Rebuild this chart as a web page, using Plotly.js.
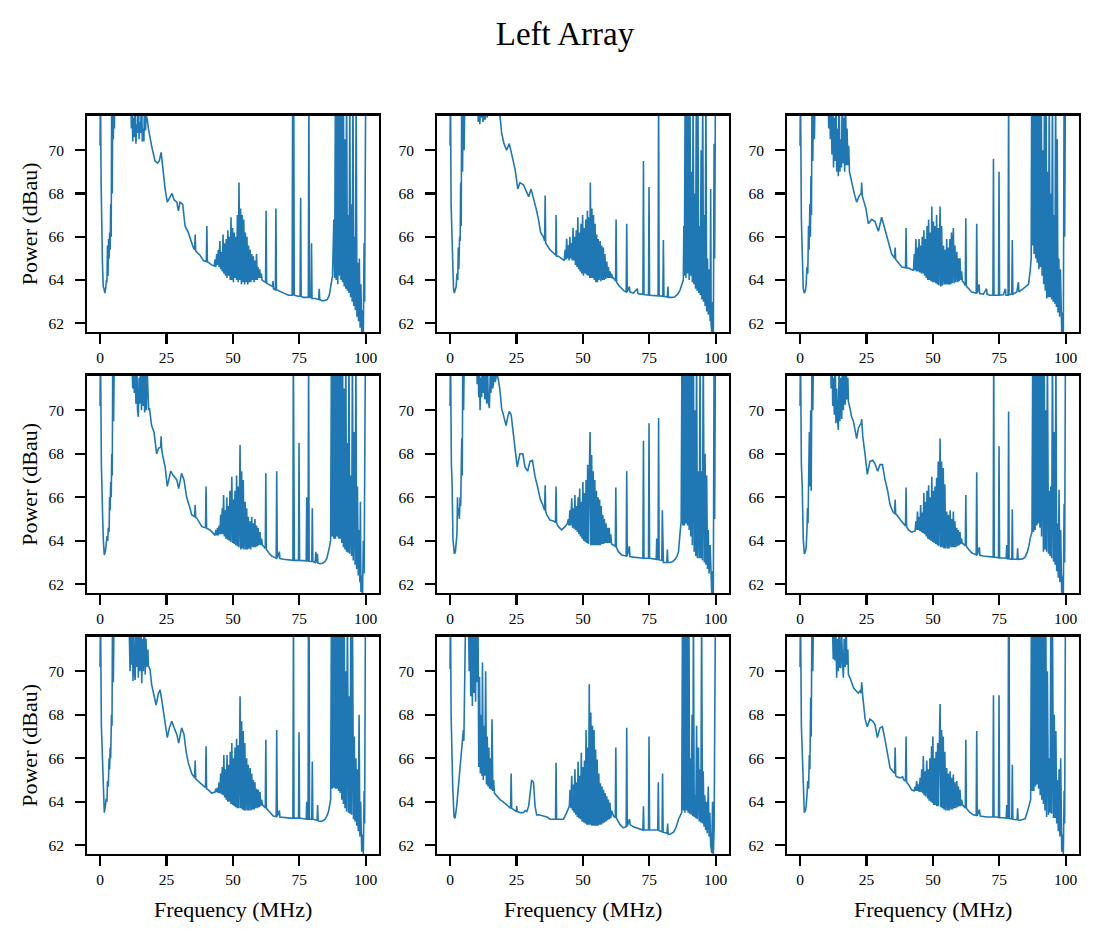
<!DOCTYPE html>
<html>
<head>
<meta charset="utf-8">
<script src="https://cdn.plot.ly/plotly-3.0.1.min.js"></script>
<style>html,body{margin:0;padding:0;background:#fff;}#chart{width:1098px;height:940px;}</style>
</head>
<body>
<div id="chart"></div>
<script>
// Tick labels
const xTicks = [0, 25, 50, 75, 100];
const yTicks = [62, 64, 66, 68, 70];
const figTitle = "Left Array";
const xLabel = "Frequency (MHz)";
const yLabel = "Power (dBau)";

// Spectra: [frequency MHz, power dBau]
const spectrum_r1c1 = [[0.0,70.2],[0.15,73],[0.4,68.5],[0.6,66.6],[0.9,64.8],[1.2,63.7],[1.5,63.6],[1.8,63.4],[2.1,63.6],[2.4,64.0],[2.6,63.9],[2.8,65.6],[3.0,64.2],[3.2,65.9],[3.4,65.0],[3.6,66.2],[3.8,65.4],[4.0,67.5],[4.2,66.0],[4.4,73],[4.6,68.0],[4.8,73],[5.0,70.5],[5.2,73],[5.4,71.0],[5.6,73],[11.5,73],
[11.8,71.0],[12.0,73],[12.3,70.4],[12.6,71.5],[12.9,70.6],[13.2,73],[13.5,70.3],[13.8,71.2],[14.1,70.8],[14.4,73],[14.7,70.5],[15.0,71.3],[15.3,70.8],[15.6,73],[15.9,70.4],[16.2,71.0],[16.5,70.4],[16.8,73],[17.1,70.9],[17.4,71.6],[17.8,71.4],
[18.2,71.0],[19.4,70.2],[20.7,69.5],[21.6,69.4],[22.3,69.5],[23.0,69.9],[23.6,69.2],[24.5,68.2],[25.3,67.6],[26.3,67.8],[27.1,68.0],[27.9,67.7],[28.9,67.6],[29.5,67.2],[30.1,67.6],[31.1,67.5],[32.0,66.5],[33.2,66.2],[34.5,65.7],[35.1,65.5],[35.6,65.4],[35.8,66.1],[36.0,65.35],[37.6,65.15],[38.9,64.9],[40.0,64.85],[40.2,66.5],[40.4,64.85],[42.0,64.7],[43.0,64.65],
[43.3,64.95],[43.6,64.6],[43.9,65.2],[44.2,64.7],[44.5,65.4],[44.8,64.6],[45.1,65.8],[45.4,64.5],[45.7,65.3],[46.0,64.4],[46.3,66.1],[46.6,64.3],[46.9,65.7],[47.2,64.2],[47.5,65.9],[47.8,64.1],[48.1,66.3],[48.4,64.2],[48.7,66.0],[49.0,64.0],[49.3,66.9],[49.6,64.0],[49.9,66.4],[50.2,63.9],[50.5,66.2],[50.8,64.1],[51.1,66.0],[51.4,64.0],[51.7,67.0],[52.0,63.9],[52.3,68.5],[52.6,64.0],[52.9,67.3],[53.2,63.8],[53.5,67.0],[53.8,63.9],[54.1,66.8],[54.4,63.8],[54.7,66.2],[55.0,63.9],[55.3,66.0],[55.6,63.8],[55.9,65.6],[56.2,63.9],[56.5,65.4],[56.8,63.9],[57.1,65.2],[57.4,64.0],[57.7,65.1],[58.0,63.9],[58.3,64.9],[58.6,64.0],[58.9,65.2],[59.2,64.0],[59.5,64.6],[59.8,64.1],[60.1,64.5],[60.4,64.1],[60.7,64.3],[61.0,64.0],
[61.5,63.95],[62.3,63.9],[62.5,67.2],[62.7,63.85],[63.5,63.8],[64.5,63.7],[64.9,63.7],[65.1,63.95],[65.3,63.6],[66.0,63.55],[66.2,67.3],[66.4,63.55],[67.5,63.5],[68.5,63.45],[70.0,63.35],[71.0,63.3],[72.3,63.3],[72.5,73],[72.7,63.3],[72.9,73],[73.1,63.3],[74.5,63.25],[75.3,63.25],[75.5,67.8],[75.7,63.25],[76.5,63.2],[77.5,63.2],[78.4,63.2],[78.6,73],[78.8,63.2],[79.4,63.2],[79.6,65.7],[79.8,63.15],[81.0,63.15],[82.3,63.1],[82.5,63.6],[82.7,63.1],[83.5,63.05],[84.5,63.05],[85.5,63.1],[86.3,63.3],[87.0,63.8],[87.5,64.2],
[88.0,66.8],[88.3,64.1],[88.6,73],[88.9,64.0],[89.2,73],[89.5,63.8],[89.8,73],[90.1,64.2],[90.4,73],[90.7,64.0],[91.0,73],[91.3,63.9],[91.6,73],[91.9,63.7],[92.2,70.5],[92.5,63.6],[92.8,73],[93.1,63.5],[93.4,67.0],[93.7,63.4],[94.0,73],[94.3,63.2],[94.6,67.5],[94.9,63.0],[95.2,73],[95.5,62.8],[95.8,66.0],[96.1,62.6],[96.4,73],[96.7,62.3],[97.0,64.8],[97.3,62.1],[97.6,65.0],[97.9,61.8],[98.2,63.8],[98.5,61.5],[98.8,62.6],[99.1,61.5],[99.4,65.7],[99.6,63.0],[99.8,68.4],[100.0,73]];

const spectrum_r1c2 = [[0.0,70.2],[0.15,73],[0.4,67.5],[0.6,66.3],[1.0,64.2],[1.3,63.6],[1.6,63.4],[2.0,63.6],[2.3,63.7],[2.6,64.3],[2.9,64.0],[3.1,65.5],[3.3,64.5],[3.6,66.0],[3.8,65.8],[4.0,68.5],[4.2,66.5],[4.4,73],[4.7,69.0],[5.0,73],[5.3,70.0],[5.6,73],[10.5,73],
[10.6,71.3],[10.9,73],[11.2,71.2],[11.5,72],[11.8,71.5],[12.1,73],[12.4,71.3],[12.8,71.7],[13.2,71.4],[13.6,73],[14.0,71.5],[14.5,73],[15.0,71.8],[18.5,72.0],
[18.8,71.6],[19.4,70.8],[20.3,70.3],[21.3,70.0],[22.3,70.3],[23.2,69.8],[24.5,69.1],[25.5,68.2],[26.3,68.5],[27.6,68.4],[28.9,68.0],[29.6,67.85],[30.5,68.2],[31.4,67.8],[32.4,67.3],[33.2,66.85],[34.1,66.2],[35.1,66.0],[35.6,65.8],[35.8,67.9],[36.0,65.7],[37.6,65.4],[39.1,65.2],[39.8,65.15],[39.9,67.0],[40.1,65.1],[40.8,65.1],[42.7,64.9],
[43.0,64.9],[43.3,65.4],[43.6,64.95],[43.9,65.9],[44.2,65.0],[44.5,65.6],[44.8,64.9],[45.1,66.0],[45.4,65.0],[45.7,65.7],[46.0,64.9],[46.3,66.4],[46.6,64.9],[46.9,66.0],[47.2,64.7],[47.5,66.3],[47.8,64.6],[48.1,66.9],[48.4,64.5],[48.7,66.2],[49.0,64.4],[49.3,66.6],[49.6,64.3],[49.9,67.0],[50.2,64.2],[50.5,66.4],[50.8,64.3],[51.1,66.8],[51.4,64.25],[51.7,67.2],[52.0,64.2],[52.3,66.9],[52.6,64.1],[52.8,68.5],[53.1,64.1],[53.4,67.3],[53.7,64.1],[54.0,67.0],[54.3,64.0],[54.6,66.6],[54.9,63.9],[55.2,66.1],[55.5,63.9],[55.8,65.9],[56.1,64.0],[56.5,65.8],[56.8,63.95],[57.1,65.6],[57.4,64.0],[57.7,65.5],[58.0,64.0],[58.3,65.2],[58.6,64.05],[59.0,64.85],[59.3,64.1],[59.6,64.6],[59.9,64.1],[60.2,64.4],[60.5,64.1],[60.8,64.3],[61.1,64.1],
[61.5,64.1],[62.3,63.95],[62.5,66.8],[62.7,63.9],[63.5,63.75],[64.6,63.6],[65.5,63.5],[66.3,63.45],[66.5,66.6],[66.7,63.45],[67.5,63.7],[67.7,63.45],[69.0,63.4],[70.5,63.6],[70.7,63.38],[71.5,63.35],[72.6,63.35],[72.8,69.5],[73.0,63.33],[74.7,63.3],[74.9,68.3],[75.1,63.3],[77.0,63.28],[78.3,63.27],[78.5,73],[78.7,63.27],[80.1,63.25],[80.3,65.85],[80.5,63.25],[81.8,63.22],[82.0,63.7],[82.2,63.2],[83.5,63.2],[84.5,63.22],[85.3,63.3],[86.0,63.4],[86.6,63.55],[87.3,63.8],[87.8,64.0],
[88.0,66.5],[88.2,64.2],[88.5,73],[88.8,64.1],[89.1,73],[89.4,64.3],[89.7,73],[90.0,64.0],[90.3,73],[90.6,64.2],[90.9,69.0],[91.2,63.9],[91.5,73],[91.8,63.8],[92.1,68.0],[92.4,63.6],[92.7,73],[93.0,63.5],[93.3,73],[93.6,63.4],[93.9,66.5],[94.2,63.3],[94.5,70.0],[94.8,63.1],[95.1,73],[95.4,63.0],[95.7,67.0],[96.0,62.8],[96.3,73],[96.6,62.55],[96.9,65.0],[97.2,62.4],[97.5,64.5],[97.9,62.1],[98.1,68.2],[98.3,61.9],[98.6,61.5],[98.9,63.0],[99.1,61.5],[99.4,70.3],[99.6,65.0],[99.9,73]];

const spectrum_r1c3 = [[0.0,70.2],[0.15,73],[0.5,66.8],[0.8,64.5],[1.2,63.6],[1.6,63.4],[2.0,63.5],[2.3,63.8],[2.6,64.6],[2.9,64.3],[3.2,66.5],[3.4,65.4],[3.7,67.5],[3.9,66.0],[4.1,68.8],[4.3,67.0],[4.5,73],[4.8,69.5],[5.1,73],[5.4,70.5],[5.7,73],[10.2,73],
[10.5,73],[10.8,71.0],[11.1,73],[11.4,70.5],[11.7,73],[12.0,69.8],[12.3,73],[12.6,69.2],[12.9,71.5],[13.2,69.5],[13.5,73],[13.8,69.0],[14.1,71.0],[14.4,68.8],[14.7,73],[15.0,69.0],[15.3,70.5],[15.6,69.2],[15.9,73],[16.2,69.4],[16.5,71.5],[16.8,69.0],[17.1,73],[17.4,69.3],[17.7,71.0],[18.0,69.3],[18.3,70.2],[18.6,69.0],
[19.4,68.5],[20.3,68.05],[21.3,67.6],[22.3,67.9],[23.0,68.0],[23.2,68.5],[23.4,67.9],[23.8,67.7],[24.8,67.3],[25.7,66.6],[27.0,66.8],[28.2,66.7],[29.5,66.25],[30.7,66.9],[32.0,66.3],[33.2,65.7],[34.5,65.2],[35.1,65.1],[35.6,65.0],[35.8,65.5],[36.0,64.95],[37.0,64.8],[38.3,64.6],[39.7,64.57],[39.9,66.4],[40.1,64.56],[40.8,64.55],[42.4,64.45],
[42.7,64.45],[43.0,65.2],[43.3,64.45],[43.6,65.9],[43.9,64.4],[44.2,65.5],[44.5,64.4],[44.8,65.9],[45.1,64.35],[45.4,65.6],[45.7,64.3],[46.0,66.0],[46.3,64.3],[46.6,66.3],[46.9,64.2],[47.2,65.9],[47.5,64.1],[47.8,66.5],[48.1,64.0],[48.4,66.8],[48.7,64.0],[49.0,66.2],[49.3,63.95],[49.6,67.4],[49.9,63.9],[50.2,66.7],[50.5,63.9],[50.8,66.5],[51.1,63.85],[51.4,67.0],[51.7,63.8],[52.0,66.4],[52.3,63.75],[52.7,67.4],[53.0,63.7],[53.3,66.5],[53.6,63.75],[54.0,65.6],[54.3,63.8],[54.6,65.4],[54.9,63.8],[55.2,65.9],[55.5,63.8],[55.8,65.5],[56.1,63.8],[56.4,65.9],[56.7,63.8],[57.0,66.2],[57.3,63.85],[57.7,66.4],[58.0,63.85],[58.3,65.6],[58.6,63.9],[59.0,65.3],[59.3,63.9],[59.6,65.0],[59.9,63.95],[60.2,65.0],[60.5,64.0],[60.8,64.4],[61.1,63.95],
[61.5,63.9],[62.2,63.75],[62.4,66.85],[62.6,63.72],[63.5,63.6],[64.6,63.45],[65.5,63.42],[66.3,63.4],[66.5,66.6],[66.7,63.4],[67.4,63.8],[67.6,63.38],[69.0,63.35],[70.2,63.6],[70.4,63.34],[71.5,63.3],[72.6,63.3],[72.8,69.6],[73.0,63.3],[74.7,63.3],[74.9,69.0],[75.1,63.3],[76.5,63.32],[77.3,63.6],[77.5,63.3],[78.3,63.3],[78.5,73],[78.7,63.32],[79.7,63.35],[79.9,65.85],[80.1,63.35],[81.6,63.45],[82.2,63.9],[82.4,63.45],[84.0,63.6],[85.0,63.7],[86.0,63.8],[86.6,64.4],[87.0,65.0],
[87.2,73],[87.5,65.6],[87.8,73],[88.1,65.2],[88.4,73],[88.7,65.0],[89.0,73],[89.3,64.8],[89.6,73],[89.9,64.5],[90.2,73],[90.5,64.6],[90.8,73],[91.1,64.2],[91.4,70.0],[91.7,63.8],[92.0,73],[92.3,63.5],[92.6,73],[92.9,63.15],[93.2,69.0],[93.5,63.2],[93.8,73],[94.1,63.2],[94.4,68.0],[94.7,63.1],[95.0,73],[95.3,63.0],[95.6,67.0],[95.9,62.9],[96.2,73],[96.5,62.75],[96.8,70.5],[97.1,62.5],[97.4,65.0],[97.7,62.3],[98.0,64.5],[98.3,61.9],[98.5,61.6],[98.8,62.5],[99.1,61.6],[99.4,73],[99.6,66.0],[99.9,73]];

const spectrum_r2c1 = [[0.0,70.2],[0.15,73],[0.5,67.5],[0.75,66.7],[1.0,65.0],[1.25,64.0],[1.6,63.35],[2.0,63.5],[2.3,63.8],[2.6,64.2],[2.9,64.0],[3.1,64.6],[3.4,64.4],[3.6,66.0],[3.8,65.4],[4.0,66.7],[4.2,66.0],[4.4,68.0],[4.6,67.0],[4.8,73],[5.1,69.5],[5.4,73],[11.8,73],
[12.0,72],[12.3,71.0],[12.6,73],[12.9,70.8],[13.2,73],[13.5,70.3],[13.8,73],[14.1,70.0],[14.4,69.7],[14.7,71.5],[15.0,70.3],[15.3,73],[15.6,70.0],[15.9,71.8],[16.2,70.2],[16.5,73],[16.8,69.9],[17.1,71.6],[17.4,70.0],[17.7,72],[18.0,70.2],[18.3,70.0],[18.6,70.1],
[18.8,69.95],[19.4,69.3],[20.3,69.0],[21.3,68.0],[22.0,68.25],[22.8,68.3],[23.0,68.8],[23.2,68.2],[23.6,67.9],[24.5,67.4],[25.3,66.5],[26.6,67.2],[27.6,67.0],[28.9,66.8],[29.6,66.4],[30.7,67.1],[31.6,66.8],[32.6,66.0],[33.5,65.65],[34.5,65.2],[35.6,65.1],[35.8,65.65],[36.0,65.08],[36.4,65.05],[38.3,64.65],[39.7,64.6],[39.9,66.5],[40.1,64.58],[41.4,64.5],[42.7,64.35],[43.3,64.25],
[43.6,64.5],[43.9,64.25],[44.2,64.6],[44.5,64.25],[44.8,64.7],[45.1,64.3],[45.4,65.2],[45.7,64.3],[46.0,65.5],[46.2,64.3],[46.5,66.1],[46.8,64.2],[47.1,65.4],[47.4,64.1],[47.7,66.0],[48.0,64.05],[48.3,65.6],[48.6,64.0],[48.9,66.3],[49.2,63.95],[49.6,66.95],[49.9,63.9],[50.2,65.9],[50.5,63.85],[50.8,66.3],[51.1,63.8],[51.4,67.0],[51.7,63.75],[52.0,66.5],[52.3,63.7],[52.7,68.4],[53.0,63.6],[53.3,67.2],[53.6,63.65],[53.9,66.8],[54.2,63.6],[54.6,65.8],[54.9,63.6],[55.2,65.5],[55.5,63.6],[55.8,65.1],[56.1,63.65],[56.4,64.9],[56.7,63.6],[57.1,65.1],[57.4,63.7],[57.7,64.8],[58.0,63.7],[58.3,65.0],[58.6,63.7],[58.9,64.7],[59.2,63.75],[59.5,64.6],[59.8,63.8],[60.2,64.4],[60.5,63.8],[60.8,64.1],[61.1,63.8],
[61.5,63.75],[62.2,63.65],[62.4,67.1],[62.6,63.6],[63.5,63.45],[64.6,63.3],[65.5,63.25],[66.3,63.2],[66.5,67.2],[66.7,63.2],[67.5,63.5],[67.7,63.18],[69.0,63.15],[70.5,63.13],[71.5,63.12],[72.6,63.1],[72.75,73],[72.9,63.1],[73.0,73],[73.15,63.1],[74.7,63.1],[74.9,68.5],[75.1,63.1],[76.5,63.08],[77.6,63.08],[77.8,66.0],[78.0,63.07],[78.3,63.07],[78.5,73],[78.7,63.06],[79.7,63.05],[79.9,65.5],[80.1,63.05],[81.0,63.0],[81.2,63.5],[81.4,63.0],[81.8,63.4],[82.0,62.97],[82.8,62.95],[83.8,62.97],[84.7,63.05],[85.4,63.2],[86.0,63.5],[86.5,63.8],[86.8,64.05],
[87.1,73],[87.4,64.2],[87.7,73],[88.0,64.1],[88.3,73],[88.6,64.1],[88.9,73],[89.2,64.2],[89.5,73],[89.8,64.1],[90.1,73],[90.4,64.1],[90.7,73],[91.0,63.9],[91.3,73],[91.6,63.7],[91.9,71.0],[92.2,63.6],[92.5,73],[92.8,63.5],[93.1,68.5],[93.4,63.45],[93.7,73],[94.0,63.4],[94.3,67.0],[94.7,63.3],[95.0,73],[95.3,63.1],[95.6,69.0],[96.0,62.9],[96.3,73],[96.6,62.7],[96.9,66.5],[97.2,62.4],[97.5,64.5],[97.8,62.1],[98.0,65.8],[98.2,61.65],[98.5,62.4],[98.8,61.5],[99.1,64.0],[99.4,62.5],[99.6,68.0],[99.9,73]];

const spectrum_r2c2 = [[0.0,70.2],[0.15,73],[0.5,67.5],[0.75,66.7],[1.1,64.1],[1.4,63.6],[1.6,63.4],[2.0,63.5],[2.3,63.8],[2.6,64.3],[2.8,66.0],[3.0,65.2],[3.2,65.5],[3.5,65.0],[3.8,66.0],[4.0,65.6],[4.2,67.5],[4.4,68.7],[4.6,67.0],[4.8,73],[5.1,70.0],[5.4,73],[10.0,73],
[10.2,71.2],[10.5,73],[10.8,70.6],[11.1,72],[11.3,70.0],[11.6,71.5],[11.9,70.6],[12.2,73],[12.5,70.8],[12.8,72],[13.1,70.5],[13.4,71.6],[13.8,70.3],[14.1,72],[14.4,70.4],[14.8,70.1],[15.1,71.6],[15.4,70.8],[15.7,73],[16.0,71.0],[16.3,71.2],[16.7,72],[17.0,71.3],[17.6,71.7],[18.2,71.4],
[18.8,70.9],[19.4,70.1],[20.3,69.65],[21.1,69.3],[21.7,69.7],[22.3,69.95],[23.0,69.8],[23.8,68.8],[24.6,68.1],[25.3,67.4],[26.3,68.0],[27.4,68.0],[28.2,67.4],[29.2,67.2],[30.1,67.65],[31.0,67.7],[32.0,66.95],[32.9,66.5],[33.9,65.95],[34.9,65.65],[35.6,65.4],[35.8,66.55],[36.0,65.35],[36.4,65.2],[37.6,64.95],[39.1,64.9],[39.7,64.85],[39.9,66.5],[40.1,64.8],[40.8,64.65],[42.0,64.5],[43.3,64.65],[44.2,64.8],
[44.5,65.0],[44.8,64.7],[45.1,65.4],[45.4,64.7],[45.8,65.95],[46.1,64.6],[46.4,65.5],[46.7,64.55],[47.0,66.1],[47.3,64.5],[47.6,65.6],[47.9,64.4],[48.2,66.0],[48.5,64.3],[48.8,66.4],[49.1,64.2],[49.4,65.8],[49.7,64.1],[50.0,66.7],[50.3,64.0],[50.6,66.2],[50.9,63.95],[51.2,66.8],[51.5,63.9],[51.8,67.5],[52.1,63.85],[52.4,66.9],[52.7,69.0],[53.0,63.8],[53.3,67.95],[53.6,63.8],[53.9,67.2],[54.2,63.8],[54.5,66.8],[54.8,63.8],[55.1,66.3],[55.4,63.8],[55.7,66.0],[56.0,63.8],[56.3,65.9],[56.6,63.8],[56.9,65.6],[57.2,63.85],[57.5,65.2],[57.8,63.85],[58.1,65.0],[58.4,63.9],[58.7,64.8],[59.0,63.9],[59.3,64.6],[59.6,63.9],[59.9,64.6],[60.2,63.9],[60.5,64.3],[60.8,63.85],
[61.3,63.8],[62.2,63.75],[62.4,66.45],[62.6,63.7],[63.4,63.5],[64.6,63.35],[65.5,63.32],[66.3,63.3],[66.5,67.2],[66.7,63.3],[67.5,63.75],[67.7,63.28],[69.0,63.25],[70.5,63.23],[71.5,63.22],[72.6,63.2],[72.8,68.6],[73.0,63.2],[74.7,63.2],[74.9,69.4],[75.1,63.2],[76.5,63.18],[77.6,63.15],[77.8,64.1],[78.0,63.15],[78.3,63.14],[78.5,69.65],[78.7,63.12],[79.7,63.1],[79.9,65.4],[80.1,63.05],[80.3,63.0],[81.6,63.0],[81.8,63.6],[82.0,63.0],[82.8,63.0],[83.8,63.05],[84.7,63.15],[85.5,63.3],[86.0,63.5],[86.6,64.4],
[87.0,64.9],[87.3,73],[87.6,64.7],[87.9,73],[88.2,64.7],[88.5,73],[88.8,64.8],[89.1,73],[89.4,64.7],[89.7,73],[90.0,64.5],[90.3,73],[90.6,64.2],[90.9,73],[91.2,63.8],[91.6,73],[91.9,63.5],[92.2,70.0],[92.5,63.3],[92.8,73],[93.1,63.2],[93.5,67.2],[93.8,63.2],[94.1,73],[94.4,63.2],[94.7,67.2],[95.0,63.1],[95.3,73],[95.7,63.0],[96.0,68.0],[96.3,62.9],[96.6,67.0],[96.9,62.7],[97.2,64.5],[97.5,62.5],[97.9,63.8],[98.2,62.0],[98.5,61.6],[98.8,62.6],[99.1,61.6],[99.4,73],[99.6,65.0],[99.9,73]];

const spectrum_r2c3 = [[0.0,70.2],[0.15,73],[0.5,67.5],[0.8,66.6],[1.2,64.1],[1.6,63.4],[2.0,63.5],[2.3,63.7],[2.6,64.5],[2.8,65.5],[3.0,64.8],[3.3,67.0],[3.5,69.0],[3.7,66.5],[4.0,70.0],[4.2,66.3],[4.5,73],[4.8,70.0],[5.1,73],[11.5,73],
[11.7,71.0],[12.0,73],[12.3,70.2],[12.6,71.5],[12.9,69.8],[13.2,73],[13.5,69.4],[13.8,71.0],[14.1,69.6],[14.4,69.1],[14.7,72],[15.0,69.5],[15.3,71.5],[15.7,69.6],[16.0,73],[16.3,70.0],[16.6,72],[17.0,70.25],[17.3,73],[17.6,70.5],[18.0,71.5],[18.2,70.4],
[18.8,70.1],[19.4,69.7],[20.1,69.5],[20.7,69.1],[21.3,68.7],[22.0,69.2],[22.6,69.35],[23.0,69.4],[23.2,69.6],[23.4,69.1],[23.6,68.8],[24.5,67.95],[25.3,67.05],[26.3,67.65],[27.4,67.7],[28.2,67.55],[29.2,67.2],[30.1,67.5],[31.0,67.5],[32.0,66.8],[32.9,66.35],[33.9,65.65],[34.9,65.35],[35.6,65.25],[35.8,65.9],[36.0,65.22],[36.4,65.2],[37.9,64.95],[39.5,64.7],[39.7,64.68],[39.9,66.45],[40.1,64.65],[40.8,64.5],[42.0,64.4],[43.3,64.45],
[43.6,64.9],[43.9,64.5],[44.2,65.35],[44.5,64.5],[44.8,65.1],[45.1,64.45],[45.4,65.65],[45.7,64.4],[46.0,65.3],[46.3,64.35],[46.6,66.2],[46.9,64.3],[47.2,65.8],[47.5,64.2],[47.8,66.3],[48.1,64.1],[48.4,66.55],[48.7,64.05],[49.0,66.0],[49.3,64.0],[49.6,66.95],[49.9,63.95],[50.2,66.3],[50.5,63.9],[50.8,66.5],[51.1,63.85],[51.4,66.9],[51.7,63.8],[52.0,67.65],[52.3,63.75],[52.7,68.7],[53.0,63.7],[53.3,67.65],[53.6,63.7],[53.9,67.35],[54.2,63.65],[54.5,66.6],[54.8,63.65],[55.2,65.35],[55.5,63.65],[55.8,65.2],[56.1,63.65],[56.5,65.4],[56.8,63.7],[57.1,65.0],[57.4,63.7],[57.7,65.35],[58.0,63.7],[58.3,64.9],[58.6,63.7],[59.0,64.6],[59.3,63.75],[59.6,64.5],[59.9,63.8],[60.2,64.4],[60.5,63.85],[60.8,64.1],
[61.0,63.9],[62.2,63.78],[62.4,66.1],[62.6,63.75],[63.5,63.6],[64.6,63.45],[65.5,63.4],[66.3,63.35],[66.5,67.15],[66.7,63.35],[67.5,63.7],[67.7,63.33],[69.0,63.3],[70.5,63.28],[71.5,63.27],[72.7,63.25],[72.9,73],[73.1,63.25],[74.7,63.22],[74.9,68.35],[75.1,63.22],[76.5,63.2],[77.6,63.2],[77.8,63.8],[78.0,63.18],[78.3,63.18],[78.5,69.95],[78.7,63.17],[79.7,63.15],[79.9,65.45],[80.1,63.15],[81.7,63.15],[81.9,63.65],[82.1,63.15],[82.8,63.15],[83.8,63.17],[84.7,63.25],[85.6,63.5],[86.2,63.8],[86.6,64.1],[87.3,64.4],
[87.6,73],[87.9,64.4],[88.2,73],[88.5,64.5],[88.8,73],[89.1,64.7],[89.4,73],[89.7,64.8],[90.0,73],[90.3,64.6],[90.6,73],[90.9,64.2],[91.2,73],[91.6,63.5],[91.9,73],[92.2,63.6],[92.5,70.0],[92.8,63.5],[93.1,73],[93.5,63.4],[93.8,66.3],[94.1,63.3],[94.4,66.5],[94.7,63.2],[95.0,73],[95.4,63.05],[95.7,69.0],[96.0,62.9],[96.3,73],[96.6,62.6],[96.9,64.8],[97.2,62.3],[97.5,66.35],[97.8,62.1],[98.1,64.5],[98.5,61.6],[98.8,62.4],[99.1,61.6],[99.4,65.7],[99.6,63.0],[99.9,73]];

const spectrum_r3c1 = [[0.0,70.2],[0.15,73],[0.5,67.5],[0.75,66.6],[1.25,63.9],[1.6,63.5],[2.0,63.8],[2.3,64.15],[2.6,64.0],[2.8,64.95],[3.1,64.7],[3.4,66.0],[3.6,65.5],[3.8,66.5],[4.0,66.0],[4.3,68.0],[4.5,67.5],[4.7,73],[5.0,69.5],[5.3,73],[10.8,73],
[11.0,71.2],[11.3,70.0],[11.6,73],[11.9,70.3],[12.2,72],[12.4,69.55],[12.6,73],[12.9,70.0],[13.2,69.6],[13.5,72],[13.8,70.2],[14.1,73],[14.4,69.7],[14.7,71.8],[15.0,70.0],[15.3,73],[15.7,69.45],[16.0,71.5],[16.3,70.0],[16.6,73],[17.0,69.85],[17.3,71.5],[17.6,70.2],[18.0,71.0],[18.2,70.25],
[18.8,70.1],[19.4,69.4],[20.3,68.9],[21.1,68.45],[22.0,69.0],[22.6,69.15],[23.2,68.7],[24.1,68.0],[24.8,67.55],[25.3,66.95],[26.1,67.4],[27.0,67.7],[27.9,67.4],[28.9,67.1],[29.6,66.7],[30.7,67.4],[31.6,67.1],[32.4,66.3],[33.2,65.8],[34.5,65.3],[35.6,65.1],[35.8,65.9],[36.0,65.05],[36.4,65.0],[38.3,64.8],[39.7,64.65],[39.9,66.55],[40.1,64.6],[40.8,64.55],[42.0,64.4],[43.3,64.45],
[43.6,64.6],[43.9,64.45],[44.2,64.65],[44.5,64.4],[44.8,64.9],[45.1,64.4],[45.4,65.3],[45.7,64.35],[46.0,65.6],[46.3,64.3],[46.6,66.15],[46.9,64.2],[47.2,65.5],[47.5,64.1],[47.8,66.15],[48.1,64.0],[48.4,65.7],[48.7,64.0],[49.0,66.3],[49.3,63.9],[49.6,66.7],[49.9,63.85],[50.2,66.0],[50.5,63.8],[50.8,66.5],[51.1,63.75],[51.4,66.9],[51.7,63.7],[52.0,66.6],[52.3,63.7],[52.7,68.85],[53.0,63.7],[53.3,67.7],[53.6,63.65],[53.9,67.25],[54.2,63.6],[54.5,66.7],[54.8,63.6],[55.2,66.0],[55.5,63.6],[55.8,65.7],[56.1,63.6],[56.5,65.55],[56.8,63.6],[57.1,65.3],[57.4,63.65],[57.7,65.0],[58.0,63.65],[58.3,64.9],[58.6,63.7],[59.0,64.6],[59.3,63.7],[59.6,64.55],[59.9,63.75],[60.2,64.45],[60.5,63.8],[60.8,64.1],
[61.2,63.85],[62.2,63.72],[62.4,66.85],[62.6,63.7],[64.0,63.5],[65.2,63.35],[66.3,63.32],[66.5,67.3],[66.7,63.32],[67.5,63.6],[67.7,63.3],[69.0,63.28],[70.3,63.25],[71.5,63.25],[72.6,63.25],[72.8,73],[73.0,63.25],[74.7,63.25],[74.9,67.2],[75.1,63.25],[76.5,63.22],[77.6,63.2],[77.8,64.0],[78.0,63.2],[78.3,63.2],[78.45,73],[78.6,63.2],[78.7,73],[78.85,63.2],[79.7,63.2],[79.9,65.85],[80.1,63.2],[81.7,63.15],[81.9,63.85],[82.1,63.12],[82.8,63.1],[83.8,63.12],[84.7,63.2],[85.4,63.35],[86.0,63.55],[86.8,64.1],
[87.1,73],[87.4,64.6],[87.7,73],[88.0,64.65],[88.3,73],[88.6,64.6],[88.9,73],[89.2,64.6],[89.5,73],[89.8,64.5],[90.1,73],[90.4,64.4],[90.7,73],[91.0,64.1],[91.3,73],[91.6,63.9],[91.9,73],[92.2,63.7],[92.5,70.0],[92.8,63.55],[93.1,73],[93.5,63.5],[93.8,68.85],[94.1,63.45],[94.4,73],[94.7,63.4],[95.0,73],[95.4,63.2],[95.7,67.0],[96.0,63.1],[96.3,66.0],[96.6,62.9],[96.9,65.5],[97.2,62.65],[97.5,68.0],[97.8,62.4],[98.1,64.0],[98.5,61.7],[98.8,62.5],[99.1,61.6],[99.4,64.5],[99.6,63.0],[99.9,73]];

const spectrum_r3c2 = [[0.0,70.1],[0.15,73],[0.4,68.0],[0.6,66.7],[1.0,64.7],[1.5,63.3],[1.9,63.25],[2.5,63.8],[3.1,64.7],[3.8,65.6],[4.4,66.5],[5.0,67.3],[5.2,66.8],[5.4,68.7],[5.6,68.0],[5.9,73],[6.9,73],
[7.2,70.0],[7.5,73],[7.8,68.85],[8.1,73],[8.4,68.4],[8.7,73],[9.0,69.0],[9.3,73],[9.6,68.6],[9.9,73],[10.2,69.5],[10.5,73],[10.8,65.6],[11.1,69.75],[11.4,65.3],[11.7,68.0],[12.0,65.2],[12.2,70.4],[12.5,65.0],[12.8,67.5],[13.1,65.2],[13.4,70.0],[13.7,64.8],[14.0,67.0],[14.3,64.7],[14.6,66.5],[14.9,64.6],[15.2,66.0],[15.5,64.55],[15.8,67.8],[16.1,64.5],[16.4,65.0],[16.7,64.4],
[17.5,64.3],[18.8,64.1],[20.0,64.0],[21.3,63.85],[22.8,63.7],[23.0,65.3],[23.2,63.7],[23.8,63.65],[25.0,63.55],[25.1,63.8],[25.3,63.55],[26.5,63.5],[27.6,63.5],[28.3,63.6],[28.9,63.55],[29.6,63.8],[30.1,64.4],[30.7,65.0],[31.4,64.9],[32.0,63.8],[32.6,63.4],[33.5,63.4],[35.1,63.35],[36.5,63.3],[37.6,63.2],[39.0,63.2],[39.7,63.2],[39.9,65.8],[40.1,63.2],[41.5,63.2],[42.7,63.2],[43.9,63.5],[44.9,63.8],
[45.2,64.55],[45.5,63.7],[45.8,65.2],[46.1,63.6],[46.4,64.8],[46.7,63.5],[47.0,65.5],[47.3,63.4],[47.6,64.9],[47.9,63.3],[48.2,65.85],[48.5,63.25],[48.8,65.2],[49.1,63.2],[49.4,66.25],[49.7,63.1],[50.0,65.6],[50.3,63.05],[50.6,65.9],[50.9,63.0],[51.2,67.3],[51.5,62.95],[51.8,66.5],[52.1,62.95],[52.4,69.4],[52.7,62.95],[53.0,68.1],[53.3,62.9],[53.6,67.5],[53.9,62.9],[54.2,67.3],[54.5,62.9],[54.8,66.4],[55.1,62.9],[55.4,65.95],[55.7,62.9],[56.0,65.3],[56.3,62.95],[56.6,64.85],[56.9,62.95],[57.2,64.7],[57.5,63.0],[57.8,64.55],[58.1,63.05],[58.4,64.4],[58.7,63.1],[59.0,64.25],[59.3,63.15],[59.6,64.1],[59.9,63.2],[60.2,63.95],[60.5,63.25],[60.8,63.6],
[61.5,63.35],[62.2,63.27],[62.4,66.5],[62.6,63.25],[63.2,63.1],[64.0,62.95],[65.2,62.8],[66.3,62.85],[66.5,67.4],[66.7,62.88],[67.5,63.2],[67.8,62.95],[69.0,62.85],[70.3,62.8],[71.5,62.75],[72.6,62.7],[72.8,63.8],[73.0,62.7],[74.7,62.7],[74.9,67.0],[75.1,62.7],[76.5,62.7],[77.8,62.7],[78.2,62.7],[78.4,64.9],[78.6,62.68],[79.8,62.62],[80.0,65.3],[80.2,62.6],[81.7,62.55],[81.9,63.0],[82.1,62.5],[83.0,62.52],[84.1,62.6],[85.0,62.8],[86.0,63.2],[87.2,63.5],
[87.5,73],[87.8,63.6],[88.1,73],[88.4,63.5],[88.7,73],[89.0,63.6],[89.3,73],[89.6,63.5],[89.9,73],[90.2,63.45],[90.5,66.0],[90.8,63.4],[91.1,68.0],[91.4,63.35],[91.6,73],[91.9,63.3],[92.2,64.3],[92.5,63.25],[92.8,67.5],[93.1,63.2],[93.5,66.5],[93.8,63.1],[94.1,65.5],[94.4,63.05],[94.7,73],[95.0,63.0],[95.3,65.4],[95.6,62.85],[95.9,64.3],[96.2,62.7],[96.5,64.0],[96.8,62.55],[97.2,64.7],[97.5,62.4],[97.8,63.5],[98.1,62.0],[98.5,61.65],[98.8,64.0],[99.1,61.6],[99.4,62.8],[99.6,66.0],[99.9,73]];

const spectrum_r3c3 = [[0.0,70.2],[0.15,73],[0.5,67.5],[0.75,66.6],[1.25,64.3],[1.6,63.5],[2.0,63.6],[2.3,63.8],[2.6,64.3],[2.9,64.95],[3.2,64.6],[3.5,66.15],[3.7,65.5],[4.0,68.8],[4.2,67.0],[4.5,73],[4.8,70.0],[5.1,73],[12.0,73],
[12.2,71.5],[12.5,70.55],[12.8,73],[13.1,70.5],[13.4,72],[13.8,69.7],[14.1,71.5],[14.4,70.0],[14.7,73],[15.0,70.2],[15.3,70.15],[15.6,72],[16.0,70.3],[16.3,69.7],[16.6,71.5],[17.0,70.2],[17.3,73],[17.6,70.3],[18.0,71.0],[18.2,69.85],
[18.8,69.7],[19.4,69.45],[20.1,69.25],[21.1,69.1],[22.0,69.0],[22.6,69.1],[23.0,69.0],[23.2,69.5],[23.4,68.95],[23.6,68.85],[24.5,67.8],[25.3,67.45],[26.3,67.8],[27.4,67.7],[28.2,67.55],[29.1,66.95],[30.1,67.4],[31.0,67.45],[32.0,66.85],[32.9,66.25],[33.9,65.55],[34.9,65.4],[35.6,65.3],[35.8,66.5],[36.0,65.2],[36.4,65.15],[37.6,65.1],[38.6,65.15],[39.1,65.0],[39.7,64.95],[39.9,67.0],[40.1,64.9],[40.8,64.8],[42.0,64.55],[42.9,64.5],
[43.3,64.7],[43.6,64.5],[43.9,64.95],[44.2,64.5],[44.5,64.8],[44.8,64.45],[45.2,65.1],[45.5,64.45],[45.8,65.5],[46.1,64.4],[46.4,66.1],[46.7,64.3],[47.0,65.4],[47.3,64.25],[47.7,65.9],[48.0,64.15],[48.3,65.5],[48.6,64.05],[48.9,66.0],[49.2,64.0],[49.5,66.55],[49.8,63.95],[50.0,67.0],[50.3,63.85],[50.6,66.0],[50.9,63.85],[51.2,66.3],[51.5,63.8],[51.8,66.7],[52.1,63.8],[52.4,66.4],[52.7,68.5],[53.0,63.75],[53.3,67.3],[53.6,63.7],[53.9,67.0],[54.2,63.65],[54.5,66.3],[54.8,63.6],[55.2,65.55],[55.5,63.6],[55.8,65.3],[56.1,63.6],[56.5,65.4],[56.8,63.65],[57.1,65.1],[57.4,63.65],[57.7,65.25],[58.0,63.7],[58.3,64.9],[58.6,63.7],[59.0,64.95],[59.3,63.75],[59.6,64.7],[59.9,63.8],[60.2,64.55],[60.5,63.8],[60.8,64.1],
[61.2,63.85],[62.2,63.72],[62.4,66.85],[62.6,63.7],[64.0,63.5],[65.2,63.4],[66.3,63.37],[66.5,67.25],[66.7,63.36],[67.5,63.65],[67.8,63.35],[69.0,63.32],[70.3,63.3],[71.5,63.3],[72.6,63.3],[72.8,68.9],[73.0,63.3],[74.0,63.3],[74.7,63.28],[74.9,68.9],[75.1,63.28],[76.5,63.27],[77.6,63.25],[77.8,63.85],[78.0,63.25],[78.3,63.25],[78.45,73],[78.6,63.24],[78.7,73],[78.85,63.23],[79.7,63.22],[79.9,65.7],[80.1,63.2],[81.7,63.18],[81.9,63.7],[82.1,63.16],[82.8,63.15],[83.8,63.17],[84.7,63.22],[85.6,63.55],[86.8,64.1],
[87.1,73],[87.4,64.5],[87.7,73],[88.0,64.5],[88.3,73],[88.6,64.7],[88.9,73],[89.2,64.8],[89.5,73],[89.8,64.6],[90.1,73],[90.4,64.3],[90.7,73],[91.0,64.1],[91.3,73],[91.6,63.9],[91.9,73],[92.2,63.6],[92.5,73],[92.8,63.3],[93.1,70.0],[93.5,63.4],[93.8,66.0],[94.1,63.5],[94.4,73],[94.7,63.45],[95.0,73],[95.4,63.25],[95.7,68.0],[96.0,63.25],[96.3,67.25],[96.6,63.0],[96.9,65.0],[97.2,62.65],[97.5,65.5],[97.8,62.4],[98.1,66.0],[98.5,61.7],[98.8,62.5],[99.1,61.6],[99.4,64.5],[99.6,63.0],[99.9,73]];

const panels = [spectrum_r1c1, spectrum_r1c2, spectrum_r1c3,
                spectrum_r2c1, spectrum_r2c2, spectrum_r2c3,
                spectrum_r3c1, spectrum_r3c2, spectrum_r3c3];

// Layout geometry (pixel box edges of each subplot in the 1098x940 figure)
const W = 1098, H = 940;
const colEdges = [[87.3, 379], [437.3, 729], [787.3, 1079]];
const rowEdges = [[115.5, 332], [375.5, 593], [636.5, 854]];
const FONT = "'Liberation Serif', 'Times New Roman', Times, serif";

const traces = [];
const layout = {
  width: W, height: H,
  margin: {l: 0, r: 0, t: 0, b: 0},
  paper_bgcolor: '#fff', plot_bgcolor: '#fff',
  showlegend: false,
  title: {text: figTitle, x: 565 / W, xanchor: 'center', y: 1 - 33 / H, yanchor: 'middle',
          font: {family: FONT, size: 33, color: '#000'}},
  annotations: []
};

panels.forEach((data, i) => {
  const r = Math.floor(i / 3), c = i % 3;
  const n = i + 1;
  const xa = n === 1 ? 'x' : 'x' + n;
  const ya = n === 1 ? 'y' : 'y' + n;
  traces.push({
    x: data.map(p => p[0]), y: data.map(p => p[1]),
    xaxis: xa, yaxis: ya, type: 'scatter', mode: 'lines',
    line: {color: '#1f77b4', width: 1.6}, hoverinfo: 'skip'
  });
  const common = {
    showline: true, mirror: true, linecolor: '#000', linewidth: 2.2,
    ticks: 'outside', ticklen: 10, tickwidth: 2.2, tickcolor: '#000',
    showgrid: false, zeroline: false, fixedrange: true,
    tickfont: {family: FONT, size: 15.5, color: '#000'}
  };
  layout['xaxis' + (n === 1 ? '' : n)] = Object.assign({}, common, {
    domain: [colEdges[c][0] / W, colEdges[c][1] / W],
    range: [-4.8, 105], tickmode: 'array', tickvals: xTicks, ticktext: xTicks.map(String),
    anchor: ya, ticklabelstandoff: 0
  });
  layout['yaxis' + (n === 1 ? '' : n)] = Object.assign({}, common, {
    domain: [1 - rowEdges[r][1] / H, 1 - rowEdges[r][0] / H],
    range: [61.6, 71.6], tickmode: 'array', tickvals: yTicks, ticktext: yTicks.map(String),
    anchor: xa, ticklabelstandoff: 8
  });
});

// Axis labels
rowEdges.forEach(e => {
  layout.annotations.push({
    text: yLabel, xref: 'paper', yref: 'paper', x: 29.5 / W, y: 1 - (e[0] + e[1]) / 2 / H,
    xanchor: 'center', yanchor: 'middle', textangle: -90, showarrow: false,
    font: {family: FONT, size: 22, color: '#000'}
  });
});
colEdges.forEach(e => {
  layout.annotations.push({
    text: xLabel, xref: 'paper', yref: 'paper', x: (e[0] + e[1]) / 2 / W, y: 1 - 909 / H,
    xanchor: 'center', yanchor: 'middle', showarrow: false,
    font: {family: FONT, size: 22, color: '#000'}
  });
});

Plotly.newPlot('chart', traces, layout, {staticPlot: true, displayModeBar: false});
</script>
</body>
</html>
